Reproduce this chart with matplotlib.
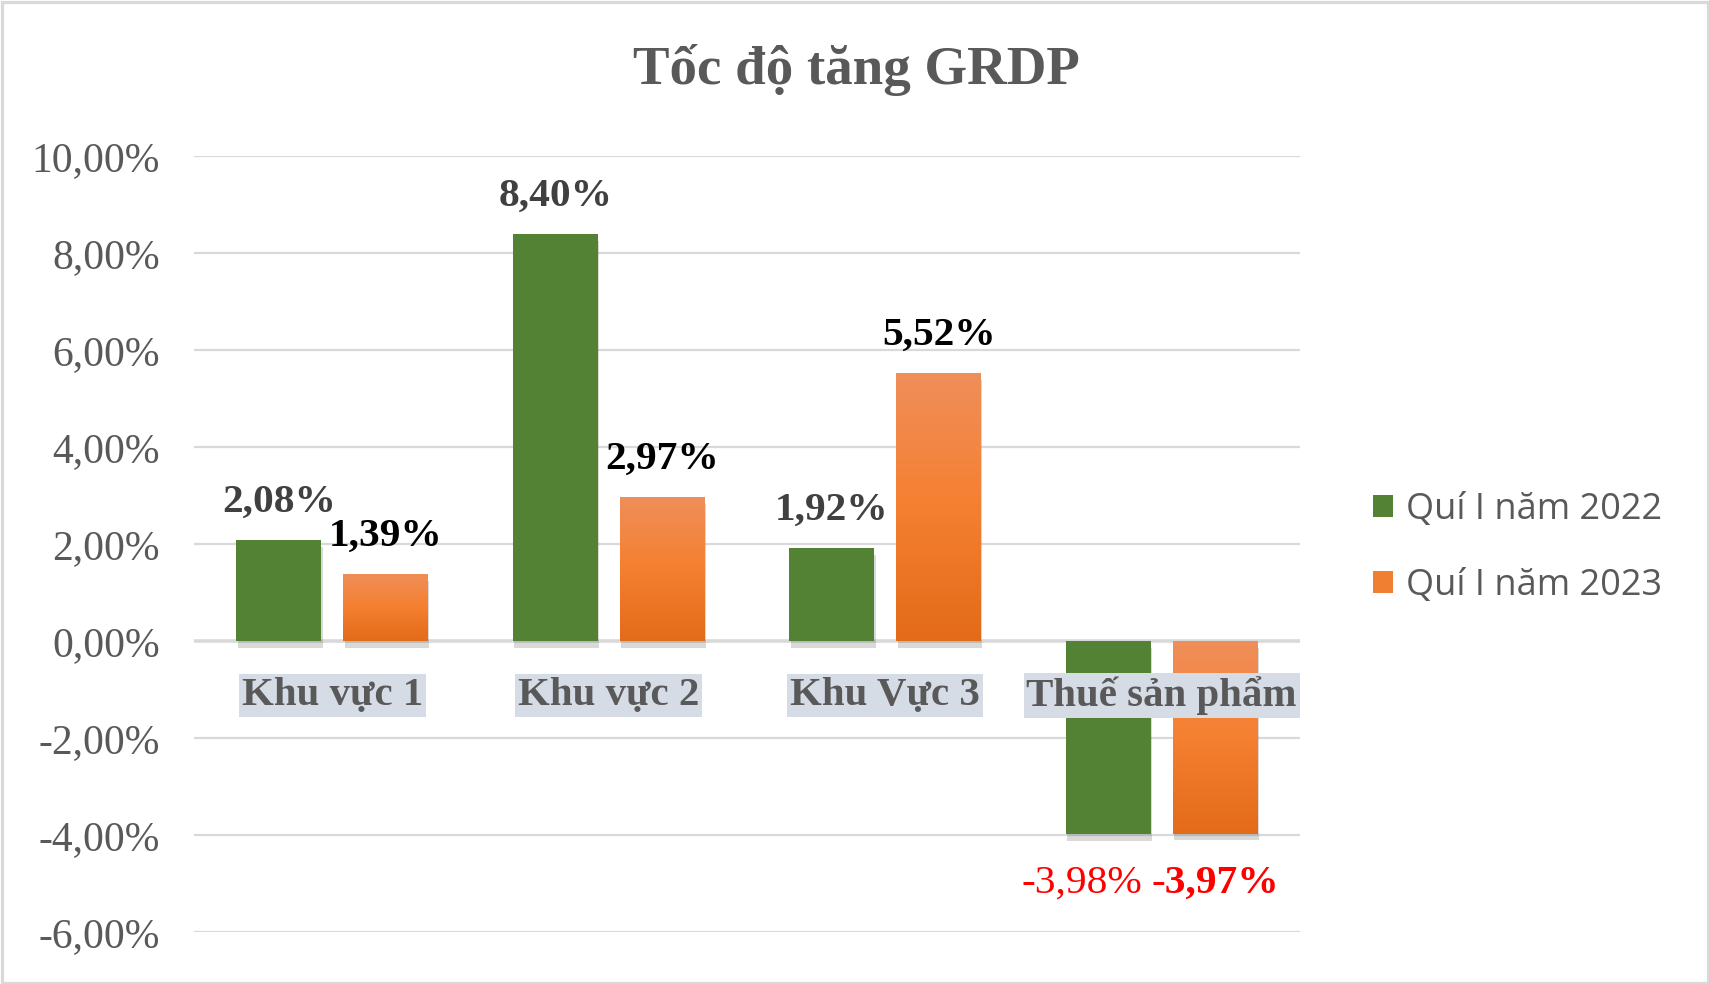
import numpy as np
import matplotlib
matplotlib.use("Agg")
import matplotlib.pyplot as plt
from matplotlib.patches import Rectangle, Patch
import matplotlib.patheffects as pe

categories = ["Khu vực 1", "Khu vực 2", "Khu Vực 3", "Thuế sản phẩm"]
series_names = ["Quí I năm 2022", "Quí I năm 2023"]
values_2022 = [2.08, 8.40, 1.92, -3.98]
values_2023 = [1.39, 2.97, 5.52, -3.97]
labels_2022 = ["2,08%", "8,40%", "1,92%", "-3,98%"]
labels_2023 = ["1,39%", "2,97%", "5,52%", "-3,97%"]
yticks = [-6, -4, -2, 0, 2, 4, 6, 8, 10]
ytick_labels = ["-6,00%", "-4,00%", "-2,00%", "0,00%", "2,00%", "4,00%", "6,00%", "8,00%", "10,00%"]
title = "Tốc độ tăng GRDP"

GREEN = "#548235"
ORANGE = "#F07F32"
GREY = "#595959"
SERIF = "Liberation Serif"

W, H = 1709, 984
fig = plt.figure(figsize=(W / 100, H / 100), dpi=100)
fig.patch.set_facecolor("white")
ax = fig.add_axes([194 / W, 1 - 932 / H, (1300 - 194) / W, (932 - 156) / H])

x = np.arange(len(categories))
bw = 0.307
off = 0.193
shadow = [pe.SimplePatchShadow(offset=(1, -5), shadow_rgbFace="k", alpha=0.15), pe.Normal()]

bars1 = ax.bar(x - off, values_2022, bw, color=GREEN, zorder=3, path_effects=shadow)
bars2 = ax.bar(x + off, values_2023, bw, color=ORANGE, zorder=3, path_effects=shadow)

# vertical gradient on orange bars
stops = np.array([[0.94, 0.56, 0.35], [0.96, 0.50, 0.19], [0.89, 0.42, 0.10]])
n = 200
t = np.linspace(0, 1, n)
grad = np.zeros((n, 1, 3))
for c in range(3):
    grad[:, 0, c] = np.interp(t, [0, 0.5, 1], stops[:, c])
for b in bars2:
    x0 = b.get_x()
    x1 = x0 + b.get_width()
    y0 = b.get_y()
    y1 = y0 + b.get_height()
    top, bot = max(y0, y1), min(y0, y1)
    im = ax.imshow(grad, extent=[x0, x1, bot, top], aspect="auto", zorder=3.5,
                   origin="upper", interpolation="bilinear")
    im.set_clip_path(b)

ax.set_xlim(-0.5, 3.5)
ax.set_ylim(-6, 10)
ax.set_aspect("auto")

# gridlines
for yv in yticks:
    ax.axhline(yv, color="#D9D9D9", lw=2.6 if yv == 0 else 1.6, zorder=1)

for s in ax.spines.values():
    s.set_visible(False)
ax.set_xticks([])
ax.set_yticks(yticks)
ax.set_yticklabels(ytick_labels, fontfamily=SERIF, fontsize=30, color=GREY)
ax.tick_params(axis="y", length=0, pad=24.5)

LFS = 29.8
# data labels
for i, (b, lab) in enumerate(zip(bars1, labels_2022)):
    v = values_2022[i]
    xc = b.get_x() + b.get_width() / 2
    if v >= 0:
        ax.annotate(lab, (xc, v), xytext=(0, 27), textcoords="offset points", ha="center", va="center",
                    fontfamily=SERIF, fontsize=LFS, fontweight="bold", color="#404040", zorder=6)
    else:
        ax.annotate(lab, (xc, v), xytext=(-19, -35.5), textcoords="offset points", ha="center", va="center",
                    fontfamily=SERIF, fontsize=LFS, color="#FF0000", zorder=6)
for i, (b, lab) in enumerate(zip(bars2, labels_2023)):
    v = values_2023[i]
    xc = b.get_x() + b.get_width() / 2
    if v >= 0:
        ax.annotate(lab, (xc, v), xytext=(0, 27), textcoords="offset points", ha="center", va="center",
                    fontfamily=SERIF, fontsize=LFS, fontweight="bold", color="black", zorder=6)
    else:
        ax.annotate(lab, (xc, v), xytext=(0, -35.5), textcoords="offset points", ha="center", va="center",
                    fontfamily=SERIF, fontsize=LFS, fontweight="bold", color="#FF0000", zorder=6)

# category labels
for xi, cat in zip(x, categories):
    ax.text(xi, -1.12, cat, ha="center", va="center", fontfamily=SERIF, fontsize=29.4,
            fontweight="bold", color=GREY, zorder=7,
            bbox=dict(boxstyle="square,pad=0.07", fc="#D6DCE5", ec="none"))

# title
fig.text(856 / W, 1 - 70 / H, title, ha="center", va="center", fontfamily=SERIF,
         fontsize=39.5, fontweight="bold", color=GREY)

# legend
handles = [Patch(facecolor=GREEN, edgecolor="none"), Patch(facecolor=ORANGE, edgecolor="none")]
leg = fig.legend(handles, series_names, loc="center left", bbox_to_anchor=(1373 / W, 1 - 548 / H),
                 frameon=False, prop={"family": "Open Sans", "size": 26},
                 handlelength=0.55, handleheight=0.55, handletextpad=0.35, labelspacing=1.1,
                 borderpad=0, borderaxespad=0)
for t_ in leg.get_texts():
    t_.set_color(GREY)

# figure border
fig.patches.append(Rectangle((1.5 / W, 1.5 / H), 1 - 3 / W, 1 - 3 / H, transform=fig.transFigure,
                             fill=False, ec="#D9D9D9", lw=2.3, zorder=10))

fig.savefig("out.png", dpi=100, facecolor="white")
